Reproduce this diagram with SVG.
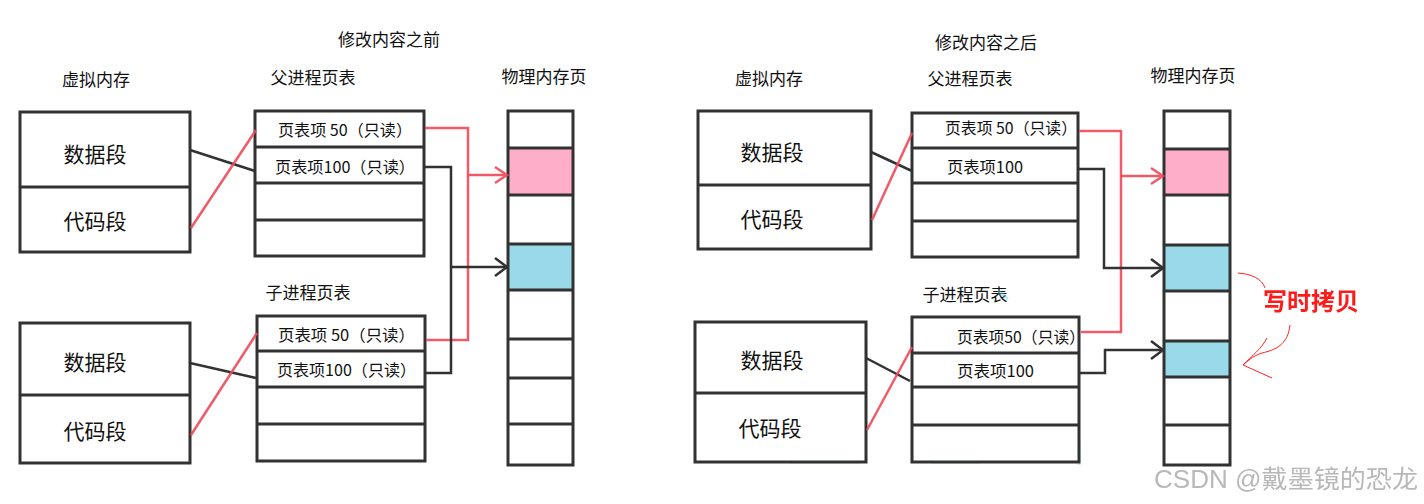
<svg xmlns="http://www.w3.org/2000/svg" width="1424" height="504" viewBox="0 0 1424 504">
<style>
.box{fill:#fff;stroke:#333;stroke-width:3}
.div{stroke:#333;stroke-width:3;fill:none}
.lbl{font-family:"Noto Sans CJK SC","Liberation Sans",sans-serif;font-size:17px;fill:#111;text-anchor:middle}
.seg{font-family:"Noto Sans CJK SC","Liberation Sans",sans-serif;font-size:21px;fill:#111;text-anchor:middle}
.row{font-family:"Noto Sans CJK SC","Liberation Sans",sans-serif;font-size:16px;fill:#111}
.blk{stroke:#333;stroke-width:2.5;fill:none}
.red{stroke:#f0485a;stroke-width:2.5;fill:none;opacity:.9}
.pink{fill:#ffaec9}
.blue{fill:#99d9ea}
.smudge{stroke:#7ccfe8;stroke-width:3;fill:none;opacity:.45}
</style>
<defs>
<filter id="soft" x="-5%" y="-5%" width="110%" height="110%"><feGaussianBlur stdDeviation="0.5"/></filter>
<marker id="arrK" markerWidth="18" markerHeight="22" refX="15" refY="11" orient="auto" markerUnits="userSpaceOnUse"><path d="M3,2 L15,11 L3,20" fill="none" stroke="#333" stroke-width="2.5"/></marker>
<marker id="arrR" markerWidth="18" markerHeight="22" refX="15" refY="11" orient="auto" markerUnits="userSpaceOnUse"><path d="M3,3 L15,11 L3,19" fill="none" stroke="#f0485a" stroke-width="2.5"/></marker>
</defs>
<rect width="1424" height="504" fill="#fff"/>

<!-- titles -->
<g id="titles">
<text class="lbl" x="389" y="46">修改内容之前</text>
<text class="lbl" x="96" y="86">虚拟内存</text>
<text class="lbl" x="313" y="84">父进程页表</text>
<text class="lbl" x="544" y="83">物理内存页</text>
<text class="lbl" x="308" y="299">子进程页表</text>
<text class="lbl" x="986" y="49">修改内容之后</text>
<text class="lbl" x="769" y="85">虚拟内存</text>
<text class="lbl" x="970" y="85">父进程页表</text>
<text class="lbl" x="1193" y="82">物理内存页</text>
<text class="lbl" x="965" y="301">子进程页表</text>
</g>

<!-- smudges (right half) -->
<g id="smudges">
<path class="smudge" d="M998,291 L1008,299 M912,330 L912,350 M912,440 L912,462 M930,462 L980,462 M1079,440 L1079,465 M1040,353 L1070,353 M930,425 L960,425 M866,340 L866,372 M840,393 L866,393 M790,462 L860,462"/>
</g>

<!-- left: before -->
<g id="vm-parent-l" filter="url(#soft)">
<rect class="box" x="20" y="112" width="170" height="140"/>
<line class="div" x1="20" y1="187" x2="190" y2="187"/>
</g>
<g id="vm-parent-l-text"><text class="seg" x="95" y="162">数据段</text><text class="seg" x="95" y="229">代码段</text></g>

<g id="pt-parent-l" filter="url(#soft)">
<rect class="box" x="255" y="111" width="169" height="145"/>
<path class="div" d="M255,147 H424 M255,183 H424 M255,220 H424"/>
</g>
<g id="pt-parent-l-text"><text class="row" x="278" y="136" textLength="134" lengthAdjust="spacingAndGlyphs">页表项 50（只读）</text><text class="row" x="275" y="173" textLength="140" lengthAdjust="spacingAndGlyphs">页表项100（只读）</text></g>

<g id="pm-l">
<rect class="pink" x="509" y="148" width="64" height="47"/>
<rect class="blue" x="509" y="244" width="64" height="46"/>
<g filter="url(#soft)">
<rect x="508" y="111" width="65" height="354" fill="none" stroke="#333" stroke-width="3"/>
<path class="div" d="M508,148 H573 M508,195 H573 M508,244 H573 M508,290 H573 M508,339 H573 M508,378 H573 M508,424 H573"/>
</g>
</g>

<g id="pt-child-l" filter="url(#soft)">
<rect class="box" x="257" y="316" width="168" height="145"/>
<path class="div" d="M257,351 H425 M257,387 H425 M257,424 H425"/>
</g>
<g id="pt-child-l-text"><text class="row" x="278" y="341" textLength="137" lengthAdjust="spacingAndGlyphs">页表项 50（只读）</text><text class="row" x="277" y="376" textLength="139" lengthAdjust="spacingAndGlyphs">页表项100（只读）</text></g>

<g id="vm-child-l" filter="url(#soft)">
<rect class="box" x="20" y="323" width="170" height="140"/>
<line class="div" x1="20" y1="395" x2="190" y2="395"/>
</g>
<g id="vm-child-l-text"><text class="seg" x="95" y="370">数据段</text><text class="seg" x="95" y="439">代码段</text></g>

<!-- right: after -->
<g id="vm-parent-r" filter="url(#soft)">
<rect class="box" x="698" y="111" width="173" height="138"/>
<line class="div" x1="698" y1="185" x2="871" y2="185"/>
</g>
<g id="vm-parent-r-text"><text class="seg" x="772" y="160">数据段</text><text class="seg" x="772" y="227">代码段</text></g>

<g id="pt-parent-r" filter="url(#soft)">
<rect class="box" x="912" y="113" width="166" height="144"/>
<path class="div" d="M912,148 H1078 M912,183 H1078 M912,221 H1078"/>
</g>
<g id="pt-parent-r-text"><text class="row" x="945" y="134" textLength="132" lengthAdjust="spacingAndGlyphs">页表项 50（只读）</text><text class="row" x="947" y="173" textLength="76" lengthAdjust="spacingAndGlyphs">页表项100</text></g>

<g id="pm-r">
<rect class="pink" x="1165" y="149" width="64" height="46"/>
<rect class="blue" x="1165" y="245" width="64" height="46"/>
<rect class="blue" x="1165" y="341" width="64" height="36"/>
<g filter="url(#soft)">
<rect x="1164" y="111" width="66" height="354" fill="none" stroke="#333" stroke-width="3"/>
<path class="div" d="M1164,149 H1230 M1164,195 H1230 M1164,245 H1230 M1164,291 H1230 M1164,341 H1230 M1164,377 H1230 M1164,425 H1230"/>
</g>
</g>

<g id="pt-child-r" filter="url(#soft)">
<rect class="box" x="912" y="317" width="167" height="145"/>
<path class="div" d="M912,353 H1079 M912,387 H1079 M912,425 H1079"/>
</g>
<g id="pt-child-r-text"><text class="row" x="957" y="343" textLength="128" lengthAdjust="spacingAndGlyphs">页表项50（只读）</text><text class="row" x="957" y="377" textLength="77" lengthAdjust="spacingAndGlyphs">页表项100</text></g>

<g id="vm-child-r" filter="url(#soft)">
<rect class="box" x="695" y="322" width="171" height="140"/>
<line class="div" x1="695" y1="393" x2="866" y2="393"/>
</g>
<g id="vm-child-r-text"><text class="seg" x="772" y="368">数据段</text><text class="seg" x="770" y="436">代码段</text></g>

<!-- connectors -->
<g id="connectors" filter="url(#soft)">
<line class="blk" x1="190" y1="150" x2="255" y2="171"/>
<line class="red" x1="191" y1="228" x2="256" y2="130"/>
<line class="blk" x1="190" y1="363" x2="256" y2="378"/>
<line class="red" x1="191" y1="435" x2="257" y2="333"/>
<polyline class="red" points="425,128 468,128 468,340 426,340"/>
<line class="red" x1="468" y1="175" x2="507" y2="175" marker-end="url(#arrR)"/>
<polyline class="blk" points="424,167 451,167 451,373 426,373"/>
<line class="blk" x1="451" y1="267" x2="507" y2="267" marker-end="url(#arrK)"/>

<line class="blk" x1="871" y1="152" x2="912" y2="171"/>
<line class="red" x1="872" y1="220" x2="912" y2="133"/>
<line class="blk" x1="866" y1="358" x2="910" y2="381"/>
<line class="red" x1="867" y1="430" x2="912" y2="347"/>
<polyline class="red" points="1079,131 1121,131 1121,332 1081,332"/>
<line class="red" x1="1121" y1="176" x2="1163" y2="176" marker-end="url(#arrR)"/>
<polyline class="blk" points="1078,169 1104,169 1104,268 1163,268" marker-end="url(#arrK)"/>
<polyline class="blk" points="1080,373 1105,373 1105,350 1163,350" marker-end="url(#arrK)"/>
</g>

<!-- copy-on-write annotation -->
<g id="cow-note">
<text x="1311" y="310" font-family="Noto Sans CJK SC,sans-serif" font-size="24" font-weight="bold" fill="#ff1a1a" text-anchor="middle">写时拷贝</text>
<path d="M1238,273 C1252,274 1262,279 1265,288" fill="none" stroke="#ff2020" stroke-width="1"/>
<path d="M1290,325 C1288,345 1275,350 1262,353 C1252,356 1247,362 1243,365 M1267,338 C1262,348 1252,356 1243,365 L1272,378" fill="none" stroke="#ff2020" stroke-width="1"/>
</g>

<g id="watermark">
<text x="1154" y="488" font-family="Liberation Sans,Noto Sans CJK SC,sans-serif" font-size="25" fill="#b8b8b8" textLength="264" lengthAdjust="spacingAndGlyphs">CSDN @戴墨镜的恐龙</text>
</g>
</svg>
